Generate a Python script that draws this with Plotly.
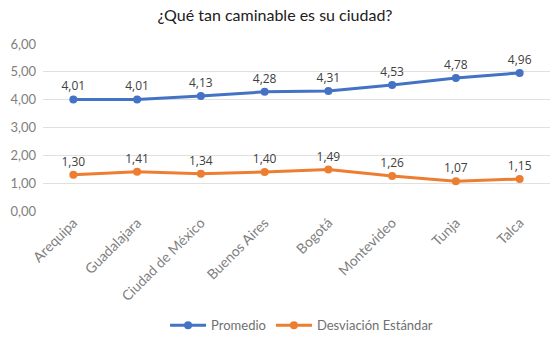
import plotly.graph_objects as go

ciudades = ["Arequipa", "Guadalajara", "Ciudad de México", "Buenos Aires",
            "Bogotá", "Montevideo", "Tunja", "Talca"]
promedio = [4.01, 4.01, 4.13, 4.28, 4.31, 4.53, 4.78, 4.96]
desviacion = [1.30, 1.41, 1.34, 1.40, 1.49, 1.26, 1.07, 1.15]
y_ticks = [0, 1, 2, 3, 4, 5, 6]

def fmt(v):
    return f"{v:.2f}".replace(".", ",")

fig = go.Figure()
for name, vals, color in [("Promedio", promedio, "#4472C4"),
                          ("Desviación Estándar", desviacion, "#ED7D31")]:
    fig.add_trace(go.Scatter(
        x=ciudades, y=vals, name=name, mode="lines+markers+text",
        line=dict(color=color, width=3),
        marker=dict(color=color, size=8),
        text=[fmt(v) for v in vals], textposition="top center",
        textfont=dict(family="Open Sans", size=12, color="#404040"),
    ))

fig.update_layout(
    width=550, height=341,
    margin=dict(l=43, r=0, t=44, b=130),
    paper_bgcolor="white", plot_bgcolor="white",
    title=dict(text="¿Qué tan caminable es su ciudad?", x=0.5, xanchor="center",
               y=0.955, yanchor="middle",
               font=dict(family="Lato", size=16, color="#202020")),
    showlegend=True,
    legend=dict(orientation="h", x=0.51, xanchor="center", y=-0.685, yanchor="middle",
                itemwidth=36,
                font=dict(family="Lato", size=13, color="#707070")),
    font=dict(family="Lato"),
)
fig.update_xaxes(showgrid=False, showline=False, tickangle=-45, ticks="",
                 tickfont=dict(family="Lato", size=14, color="#808080"))
fig.update_yaxes(range=[0, 6], tickvals=y_ticks, ticktext=[fmt(v) for v in y_ticks],
                 showgrid=True, gridcolor="#E0E0E0", gridwidth=1, zeroline=False,
                 showline=False, ticks="", ticklabelstandoff=6,
                 tickfont=dict(family="Lato", size=13, color="#808080"))

fig.write_html("out.html")
